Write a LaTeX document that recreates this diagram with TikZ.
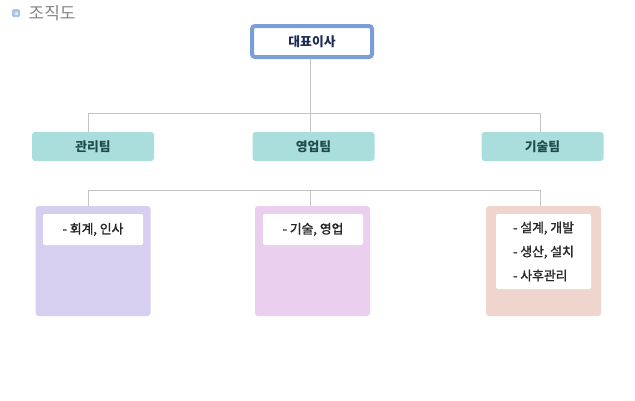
\documentclass[tikz,border=0pt]{standalone}
\usepackage{fontspec}
\newfontfamily\kr{Noto Sans CJK KR}
\newfontfamily\krm{Noto Sans CJK KR}[RawFeature={embolden=1.6}]
\definecolor{topborder}{HTML}{7B9DD8}
\definecolor{topText}{HTML}{1C2A55}
\definecolor{teamfill}{HTML}{AADEDC}
\definecolor{teamtext}{HTML}{1F4B4B}
\definecolor{linegray}{HTML}{C4C4C4}
\definecolor{boxA}{HTML}{D6CFF0}
\definecolor{boxB}{HTML}{EACFEE}
\definecolor{boxC}{HTML}{F0D5CF}
\definecolor{titlegray}{HTML}{858585}
\definecolor{iconblue}{HTML}{A8C4E6}
\begin{document}
\begin{tikzpicture}[x=1pt,y=-1pt,
  conn/.style={draw=linegray,line width=1pt},
  teambox/.style={rectangle,rounded corners=3pt,fill=teamfill,minimum width=122pt,minimum height=29pt,font=\kr\bfseries\fontsize{12.8}{14}\selectfont,text=teamtext,inner sep=0pt},
  deptbox/.style={rectangle,rounded corners=3pt,minimum width=115pt,minimum height=110pt,inner sep=0pt},
  innerbox/.style={rectangle,rounded corners=2pt,fill=white,minimum width=100pt,inner sep=0pt,font=\krm\fontsize{12.8}{24}\selectfont,text=black!85,align=left}]
\useasboundingbox (0,0) rectangle (635,400);
\fill[white] (0,0) rectangle (635,400);
% title
\node[rectangle,rounded corners=1.5pt,fill=iconblue,minimum size=8pt,inner sep=0pt] (icon) at (16,13) {};
\node[rectangle,fill=white!60!iconblue,minimum size=3pt,inner sep=0pt] (iconc) at (16,13) {};
\node[anchor=west,inner sep=0pt,font=\kr\fontsize{17}{19}\selectfont,text=titlegray] (title) at (28.5,13) {조직도};
% top
\node[rectangle,rounded corners=3pt,draw=topborder,line width=4pt,fill=white,minimum width=120pt,minimum height=31pt,inner sep=0pt,font=\kr\bfseries\fontsize{12.8}{14}\selectfont,text=topText] (ceo) at (312,41.5) {대표이사};
% teams
\node[teambox] (t1) at (93,146.5) {관리팀};
\node[teambox] (t2) at (313.5,146.5) {영업팀};
\node[teambox] (t3) at (542.5,146.5) {기술팀};
% depts
\node[deptbox,fill=boxA] (d1) at (93,261) {};
\node[deptbox,fill=boxB] (d2) at (312.5,261) {};
\node[deptbox,fill=boxC] (d3) at (543.5,261) {};
\node[innerbox,minimum height=31pt] (i1) at (93,229.5) {- 회계, 인사};
\node[innerbox,minimum height=31pt] (i2) at (313,229.5) {- 기술, 영업};
\node[innerbox,minimum width=95pt,minimum height=75pt] (i3) at (543.5,251.5) {- 설계, 개발\\- 생산, 설치\\- 사후관리};
% connectors
\coordinate (j1) at (310,113);
\coordinate (j1a) at (88,113);
\coordinate (j1b) at (540,113);
\coordinate (j2) at (310,190);
\coordinate (j2a) at (88,190);
\coordinate (j2b) at (540,190);
\draw[conn] (ceo.south -| j1) -- (j1);
\draw[conn] (j1a |- t1.north) -- (j1a) -- (j1b) -- (j1b |- t3.north);
\draw[conn] (j1) -- (j1 |- t2.north);
\draw[conn] (j2a |- d1.north) -- (j2a) -- (j2b) -- (j2b |- d3.north);
\draw[conn] (j2) -- (j2 |- d2.north);
\end{tikzpicture}
\end{document}
